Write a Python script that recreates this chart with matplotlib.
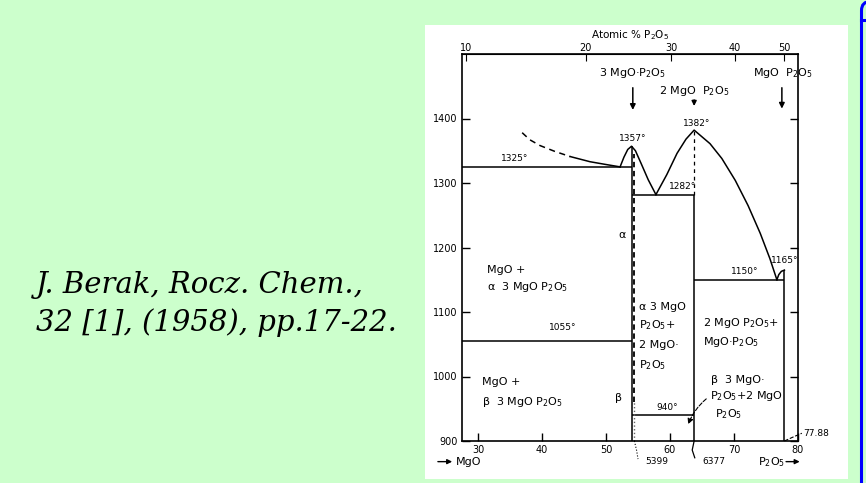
import numpy as np
import matplotlib.pyplot as plt
from matplotlib.patches import Rectangle, FancyBboxPatch

plt.rcParams['font.family'] = ['DejaVu Sans']

# compound compositions, wt% P2O5
c3 = 53.99   # 3MgO.P2O5
c2 = 63.77   # 2MgO.P2O5
c1 = 77.88   # MgO.P2O5

# invariant temperatures (deg C)
t_e1 = 1325
t_m3 = 1357
t_e2 = 1282
t_m2 = 1382
t_e3 = 1150
t_m1 = 1165
t_ab = 1055   # alpha/beta 3MgO.P2O5
t_low = 940

# liquidus branches (wt% P2O5, deg C)
mgo_dash_x = [36.9, 38.1, 39.7, 42.0, 44.4]
mgo_dash_t = [1378, 1367, 1358, 1349, 1341]
mgo_liq_x = [44.4, 47.5, 49.8, 52.2]
mgo_liq_t = [1341, 1333, 1329, 1325]
c3_liq_x = [52.2, 52.8, 53.4, 53.99, 54.6, 55.5, 56.6, 57.8]
c3_liq_t = [1325, 1340, 1352, 1357, 1350, 1330, 1305, 1282]
c2_liq_x = [57.8, 59.5, 61.1, 62.5, 63.77, 66.25, 68.1, 70.2, 72.2, 74.1, 75.6, 76.7]
c2_liq_t = [1282, 1313, 1346, 1368, 1382, 1361, 1338, 1304, 1265, 1222, 1183, 1150]
c1_liq_x = [76.7, 77.0, 77.4, 77.88]
c1_liq_t = [1150, 1158, 1163, 1165]

top_ticks = [10, 20, 30, 40, 50]          # atomic % P2O5
bottom_ticks = [30, 40, 50, 60, 70, 80]   # wt % P2O5
y_ticks = [900, 1000, 1100, 1200, 1300, 1400]

W, H = 866, 483
fig = plt.figure(figsize=(W / 100, H / 100), dpi=100, facecolor='#CCFFCC')

# page furniture drawn in pixel coordinates
bg = fig.add_axes([0, 0, 1, 1], zorder=-5)
bg.set_xlim(0, W)
bg.set_ylim(H, 0)
bg.axis('off')
bg.add_patch(Rectangle((425, 25), 423, 454, facecolor='white', edgecolor='none'))
bg.add_patch(FancyBboxPatch((861.5, 1.5), 60, 560, boxstyle='round,pad=0,rounding_size=9',
                            facecolor='none', edgecolor='#0000FF', linewidth=2.2))
bg.plot([861, 866], [20, 20], color='#0000FF', lw=2.2)
bg.text(36, 293, 'J. Berak, Rocz. Chem.,', family='DejaVu Serif', style='italic',
        fontsize=21, va='baseline', ha='left')
bg.text(36, 331, '32 [1], (1958), pp.17-22.', family='DejaVu Serif', style='italic',
        fontsize=21, va='baseline', ha='left')

ax = fig.add_axes([462 / W, (H - 441) / H, 336 / W, 387 / H])
ax.set_facecolor('none')
ax.set_xlim(27.5, 80)
ax.set_ylim(900, 1500)
lc = 'black'
lw = 1.1

# liquidus
ax.plot(mgo_dash_x, mgo_dash_t, color=lc, lw=lw, ls=(0, (4, 3)))
ax.plot(mgo_liq_x, mgo_liq_t, color=lc, lw=lw)
ax.plot(c3_liq_x, c3_liq_t, color=lc, lw=lw)
ax.plot(c2_liq_x, c2_liq_t, color=lc, lw=lw)
ax.plot(c1_liq_x, c1_liq_t, color=lc, lw=lw)

# invariant lines
ax.hlines(t_e1, 27.5, c3, color=lc, lw=lw)
ax.hlines(t_ab, 27.5, c3, color=lc, lw=lw)
ax.hlines(t_e2, c3, c2, color=lc, lw=lw)
ax.hlines(t_low, c3, c2, color=lc, lw=lw)
ax.hlines(t_e3, c2, c1, color=lc, lw=lw)

# compound lines
ax.vlines(c3, 900, t_m3, color=lc, lw=lw)
ax.vlines(c3 + 0.45, 960, 1345, color=lc, lw=1.3, ls=(0, (3, 2)))
ax.vlines(c3 + 0.45, 900, 960, color='0.4', lw=1.0, ls=':')
ax.vlines(c2, t_e2, t_m2, color=lc, lw=0.9, ls=(0, (3, 3)))
ax.vlines(c2, 900, t_e2, color=lc, lw=lw)
ax.vlines(c1, 900, t_m1, color=lc, lw=lw)

ax.tick_params(direction='in', length=6, width=1, labelsize=7, right=True, pad=3)
ax.set_xticks(bottom_ticks)
ax.set_yticks(y_ticks)
ax.set_xticklabels([str(v) for v in bottom_ticks])
ax.set_yticklabels([str(v) for v in y_ticks])
for s in ax.spines.values():
    s.set_linewidth(1.2)


def wt_to_mol(w):
    w = np.asarray(w, dtype=float)
    a = w / 141.94
    b = (100 - w) / 40.30
    return 100 * a / (a + b)


def mol_to_wt(m):
    m = np.asarray(m, dtype=float)
    a = m * 141.94
    b = (100 - m) * 40.30
    return 100 * a / (a + b)


sec = ax.secondary_xaxis('top', functions=(wt_to_mol, mol_to_wt))
sec.set_xticks(top_ticks)
sec.tick_params(direction='in', length=5, labelsize=7, pad=1)
sec.set_xlabel('Atomic % P$_2$O$_5$', fontsize=7.5, labelpad=3)

fs_num = 6.5
fs_lab = 8

# temperature labels
ax.text(35.8, 1338, '1325°', fontsize=fs_num, ha='center', va='center')
ax.text(c3 + 0.2, 1369, '1357°', fontsize=fs_num, ha='center', va='center')
ax.text(c2 + 0.4, 1392, '1382°', fontsize=fs_num, ha='center', va='center')
ax.text(61.9, 1294, '1282°', fontsize=fs_num, ha='center', va='center')
ax.text(71.7, 1163, '1150°', fontsize=fs_num, ha='center', va='center')
ax.text(77.9, 1180, '1165°', fontsize=fs_num, ha='center', va='center')
ax.text(43.3, 1076, '1055°', fontsize=fs_num, ha='center', va='center')
ax.text(59.5, 952, '940°', fontsize=fs_num, ha='center', va='center')

# phase fields
ax.text(31.4, 1165, 'MgO +', fontsize=fs_lab, ha='left', va='center')
ax.text(31.4, 1138, 'α  3 MgO P$_2$O$_5$', fontsize=fs_lab, ha='left', va='center')
ax.text(30.6, 991, 'MgO +', fontsize=fs_lab, ha='left', va='center')
ax.text(30.6, 960, 'β  3 MgO P$_2$O$_5$', fontsize=fs_lab, ha='left', va='center')
ax.text(52.5, 1219, 'α', fontsize=fs_lab, ha='center', va='center')
ax.text(51.9, 967, 'β', fontsize=fs_lab, ha='center', va='center')
ax.text(55.2, 1107, 'α 3 MgO', fontsize=fs_lab, ha='left', va='center')
ax.text(55.2, 1080, 'P$_2$O$_5$+', fontsize=fs_lab, ha='left', va='center')
ax.text(55.2, 1049, '2 MgO·', fontsize=fs_lab, ha='left', va='center')
ax.text(55.2, 1018, 'P$_2$O$_5$', fontsize=fs_lab, ha='left', va='center')
ax.text(65.2, 1083, '2 MgO P$_2$O$_5$+', fontsize=fs_lab, ha='left', va='center')
ax.text(65.2, 1053, 'MgO·P$_2$O$_5$', fontsize=fs_lab, ha='left', va='center')
ax.text(66.4, 994, 'β  3 MgO·', fontsize=fs_lab, ha='left', va='center')
ax.text(66.2, 970, 'P$_2$O$_5$+2 MgO', fontsize=fs_lab, ha='left', va='center')
ax.text(67.0, 942, 'P$_2$O$_5$', fontsize=fs_lab, ha='left', va='center')
ax.annotate('', xy=(62.7, 922), xytext=(66.0, 968),
            arrowprops=dict(arrowstyle='-|>', color=lc, lw=0.8, ls='--',
                            connectionstyle='arc3,rad=0.15', mutation_scale=8))

# compound markers above the diagram
ax.text(c3 + 0.2, 1471, '3 MgO·P$_2$O$_5$', fontsize=fs_lab, ha='center', va='center')
ax.annotate('', xy=(c3 + 0.2, 1409), xytext=(c3 + 0.2, 1452),
            arrowprops=dict(arrowstyle='-|>', color=lc, lw=1.1, mutation_scale=8))
ax.text(c2, 1443, '2 MgO  P$_2$O$_5$', fontsize=fs_lab, ha='center', va='center')
ax.annotate('', xy=(c2, 1415), xytext=(c2, 1433),
            arrowprops=dict(arrowstyle='-|>', color=lc, lw=1.1, mutation_scale=7))
ax.text(c1 - 0.2, 1471, 'MgO  P$_2$O$_5$', fontsize=fs_lab, ha='center', va='center')
ax.annotate('', xy=(c1 - 0.4, 1411), xytext=(c1 - 0.4, 1452),
            arrowprops=dict(arrowstyle='-|>', color=lc, lw=1.1, mutation_scale=8))

# compositions marked below the axis
ax.plot([c3 + 0.45, c3 + 0.8, 55.0], [900, 885, 872], color=lc, lw=0.8, ls=':', clip_on=False)
ax.text(58.0, 868, '5399', fontsize=fs_num, ha='center', va='center')
ax.plot([c2, c2 - 0.3, c2 + 0.1], [900, 886, 874], color=lc, lw=0.9, clip_on=False)
ax.text(66.9, 868, '6377', fontsize=fs_num, ha='center', va='center')
ax.plot([c1, 79.2, 80.6], [900, 906, 912], color=lc, lw=0.8, ls='--', clip_on=False)
ax.text(80.8, 912, '77.88', fontsize=fs_num, ha='left', va='center')

ax.annotate('', xy=(26.4, 868), xytext=(23.3, 868), annotation_clip=False,
            arrowprops=dict(arrowstyle='-|>', color=lc, lw=1.0, mutation_scale=7))
ax.text(26.5, 868, 'MgO', fontsize=fs_lab, ha='left', va='center')
ax.text(75.9, 868, 'P$_2$O$_5$', fontsize=fs_lab, ha='center', va='center')
ax.annotate('', xy=(80.7, 868), xytext=(77.7, 868), annotation_clip=False,
            arrowprops=dict(arrowstyle='-|>', color=lc, lw=1.0, mutation_scale=7))

fig.savefig('out.png', dpi=100, facecolor=fig.get_facecolor())
